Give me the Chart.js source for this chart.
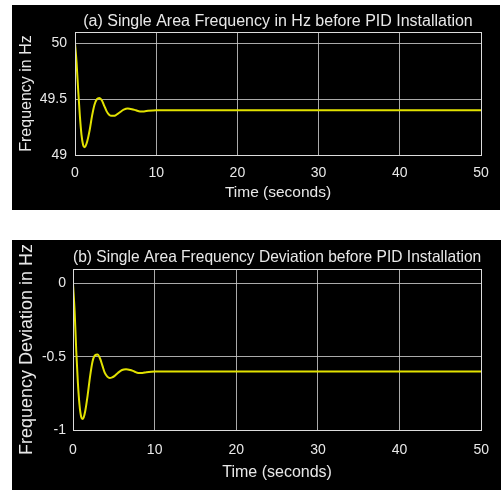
<!DOCTYPE html>
<html>
<head>
<meta charset="utf-8">
<script src="https://cdn.jsdelivr.net/npm/chart.js@4/dist/chart.umd.min.js"></script>
<style>
  html, body { margin: 0; padding: 0; background: #ffffff; width: 501px; height: 490px; overflow: hidden; }
  .panel { position: absolute; background: #000000; }
  #p1 { left: 12px; top: 5px; width: 488px; height: 205px; }
  #p2 { left: 12px; top: 240px; width: 489px; height: 250px; }
  canvas { display: block; }
</style>
</head>
<body>
<div class="panel" id="p1"><canvas id="c1" width="488" height="205"></canvas></div>
<div class="panel" id="p2"><canvas id="c2" width="489" height="250"></canvas></div>
<script>
// ---- data ----
const timeSeconds = [0, 0.2, 0.4, 0.6, 0.8, 1.0, 1.15, 1.3, 1.5, 1.8, 2.1, 2.4, 2.7, 3.0, 3.3, 3.6, 3.9, 4.2, 4.5, 4.8, 5.1, 5.5, 6.0, 6.5, 7.0, 7.5, 8.0, 8.5, 9.0, 10, 15, 20, 30, 40, 50];
const frequencyHz = [50.00, 49.82, 49.57, 49.35, 49.18, 49.09, 49.07, 49.08, 49.12, 49.22, 49.35, 49.45, 49.50, 49.51, 49.49, 49.44, 49.39, 49.36, 49.35, 49.35, 49.36, 49.38, 49.405, 49.415, 49.41, 49.40, 49.39, 49.39, 49.395, 49.40, 49.40, 49.40, 49.40, 49.40, 49.40];
const deviationHz = [0.00, -0.19, -0.46, -0.68, -0.83, -0.91, -0.925, -0.915, -0.87, -0.76, -0.63, -0.53, -0.49, -0.485, -0.51, -0.56, -0.61, -0.635, -0.645, -0.64, -0.63, -0.61, -0.59, -0.585, -0.59, -0.60, -0.61, -0.61, -0.605, -0.60, -0.60, -0.60, -0.60, -0.60, -0.60];
const xTicks = [0, 10, 20, 30, 40, 50];
const xTickLabels = ['0', '10', '20', '30', '40', '50'];
const freqTicks = [49, 49.5, 50];
const freqTickLabels = ['49', '49.5', '50'];
const devTicks = [-1, -0.5, 0];
const devTickLabels = ['-1', '-0.5', '0'];
const freqRange = [49, 50.1];
const devRange = [-1, 0.1];
const titleA = '(a) Single Area Frequency in Hz before PID Installation';
const titleB = '(b) Single Area Frequency Deviation before PID Installation';
const yTitleA = 'Frequency in Hz';
const yTitleB = 'Frequency Deviation in Hz';
const xTitle = 'Time (seconds)';

const FONT = "'Liberation Sans', Arial, Helvetica, sans-serif";
const TEXT = '#e8e8e8';
const GRID = 'rgba(200,200,200,0.85)';

const boxPlugin = {
  id: 'box',
  afterDatasetsDraw(chart) {
    const a = chart.chartArea, ctx = chart.ctx;
    ctx.save();
    ctx.strokeStyle = '#dcdcdc';
    ctx.lineWidth = 1;
    ctx.strokeRect(Math.round(a.left) + 0.5, Math.round(a.top) + 0.5, Math.round(a.right - a.left), Math.round(a.bottom - a.top));
    ctx.restore();
  }
};

function makeChart(id, L) {
  const pts = timeSeconds.map((t, i) => ({ x: t, y: L.values[i] }));
  return new Chart(document.getElementById(id), {
    type: 'line',
    data: { datasets: [{ data: pts, borderColor: '#e2e200', borderWidth: 2, pointRadius: 0, cubicInterpolationMode: 'monotone', fill: false }] },
    options: {
      responsive: false, animation: false, devicePixelRatio: 1,
      layout: { padding: { left: 0, right: L.right, top: 0, bottom: 0 } },
      plugins: {
        legend: { display: false }, tooltip: { enabled: false },
        title: { display: true, text: L.title, color: TEXT, fullSize: false, font: { family: FONT, size: L.tSize, weight: 'normal' }, padding: { top: L.tTop, bottom: L.tBottom } }
      },
      scales: {
        x: {
          type: 'linear', min: 0, max: 50,
          afterFit: s => { s.height = L.xH; },
          afterBuildTicks: s => { s.ticks = xTicks.map(v => ({ value: v })); },
          ticks: { color: TEXT, font: { family: FONT, size: 14 }, padding: L.xPad, maxRotation: 0,
            callback: (v) => { const i = xTicks.indexOf(v); return i >= 0 ? xTickLabels[i] : ''; } },
          grid: { color: GRID, lineWidth: 1, drawTicks: false },
          border: { display: false },
          title: { display: true, text: xTitle, color: TEXT, font: { family: FONT, size: L.xtSize }, padding: { top: 0, bottom: L.xtPad } }
        },
        y: {
          type: 'linear', min: L.range[0], max: L.range[1],
          afterFit: s => { s.width = L.yW; },
          afterBuildTicks: s => { s.ticks = L.ticks.map(v => ({ value: v })); },
          ticks: { color: TEXT, font: { family: FONT, size: 14 }, padding: L.yPad,
            callback: (v) => { const i = L.ticks.indexOf(v); return i >= 0 ? L.labels[i] : ''; } },
          grid: { color: GRID, lineWidth: 1, drawTicks: false },
          border: { display: false },
          title: { display: true, text: L.ytitle, color: TEXT, font: { family: FONT, size: L.ytSize }, padding: { top: L.ytPad, bottom: 0 } }
        }
      }
    },
    plugins: [boxPlugin]
  });
}

makeChart('c1', { values: frequencyHz, title: titleA, ytitle: yTitleA, range: freqRange, ticks: freqTicks, labels: freqTickLabels,
  right: 19, tSize: 16, tTop: 7, tBottom: 0.8, xH: 55, yW: 63, xPad: 10, yPad: 8, xtSize: 15.5, xtPad: 7.5, ytSize: 16, ytPad: 5 });
makeChart('c2', { values: deviationHz, title: titleB, ytitle: yTitleB, range: devRange, ticks: devTicks, labels: devTickLabels,
  right: 18, tSize: 16.5, tTop: 8, tBottom: 1.2, xH: 60, yW: 61, xPad: 12, yPad: 7, xtSize: 16, xtPad: 7.4, ytSize: 18, ytPad: 4 });
</script>
</body>
</html>
